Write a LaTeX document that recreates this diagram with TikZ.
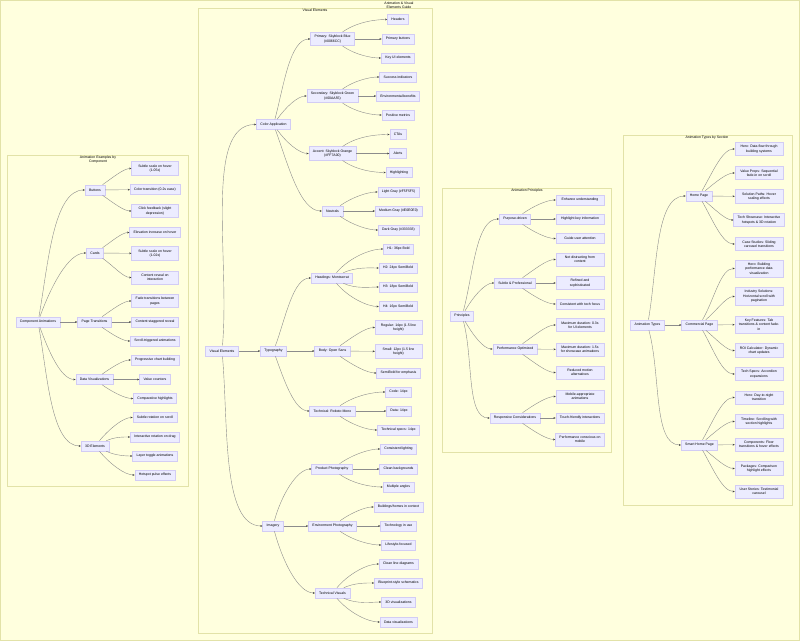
\documentclass[tikz,border=0pt]{standalone}
\usepackage{fontspec}
\setmainfont{Liberation Sans}
\usetikzlibrary{arrows.meta}
\definecolor{nodefill}{HTML}{ECECFF}
\definecolor{nodeline}{HTML}{D2CCF4}
\definecolor{clfill}{HTML}{FFFFDE}
\definecolor{clline}{HTML}{E2E2A8}
\definecolor{edgec}{HTML}{8C8C8C}
\tikzset{
 bx/.style={draw=nodeline, fill=nodefill, line width=0.4pt, font=\fontsize{2.6}{3.3}\selectfont, inner xsep=3pt, inner ysep=2.2pt, minimum height=7.5pt, align=center},
 lf/.style={bx, minimum width=36pt},
 lw/.style={bx, minimum width=35pt},
 cl/.style={draw=clline, fill=clfill, line width=0.5pt},
 ttl/.style={font=\fontsize{2.6}{3.3}\selectfont, align=center, inner sep=0pt, anchor=north},
 ed/.style={draw=edgec, line width=0.3pt, -{Stealth[length=1.6pt,width=1.4pt,color=black!75]}},
}
\newcommand\ecurve[3]{\draw[ed] (#1) to[out=#3,in=180,in looseness=0.6] (#2);}
\newcommand\estr[2]{\draw[ed] (#1) -- (#2);}
\begin{document}
\begin{tikzpicture}[x=0.75pt,y=-0.75pt]
\useasboundingbox (0,0) rectangle (800,641);
\draw[cl] (0.5,0.5) rectangle (799.5,640.5);
\node[ttl] at (399,1.5) {Animation \& Visual\\Elements Guide};
% clusters
\draw[cl] (7,155) rectangle (188,486);
\node[ttl] at (98,155.5) {Animation Examples by\\Component};
\draw[cl] (198,8) rectangle (432,633);
\node[ttl] at (315,9) {Visual Elements};
\draw[cl] (442,188) rectangle (611,452);
\node[ttl] at (527,189) {Animation Principles};
\draw[cl] (623,135) rectangle (792,505);
\node[ttl] at (707,136) {Animation Types by Section};

% ---------- Left cluster
\node[bx] (ca) at (38,322) {Component Animations};
\node[bx] (bt) at (95,190) {Buttons};
\node[lw] (bt1) at (155,168.5) {Subtle scale on hover\\(1.05x)};
\node[bx] (bt2) at (155,189.5) {Color transition (0.2s ease)};
\node[lw] (bt3) at (155,211) {Click feedback (slight\\depression)};
\node[bx] (cd) at (95,253) {Cards};
\node[bx] (cd1) at (155,232.5) {Elevation increase on hover};
\node[lw] (cd2) at (155,253.5) {Subtle scale on hover\\(1.02x)};
\node[lw] (cd3) at (155,277.5) {Content reveal on\\interaction};
\node[bx] (pt) at (94.5,322) {Page Transitions};
\node[lw] (pt1) at (155,301) {Fade transitions between\\pages};
\node[bx] (pt2) at (155,322) {Content staggered reveal};
\node[bx] (pt3) at (155,341) {Scroll-triggered animations};
\node[bx] (dv) at (94.5,379.5) {Data Visualizations};
\node[bx] (dv1) at (155,360) {Progressive chart building};
\node[bx] (dv2) at (155,379.5) {Value counters};
\node[bx] (dv3) at (155,398.5) {Comparative highlights};
\node[bx] (td) at (95,446) {3D Elements};
\node[bx] (td1) at (155,417.5) {Subtle rotation on scroll};
\node[bx] (td2) at (155,437) {Interactive rotation on drag};
\node[bx] (td3) at (155,456) {Layer toggle animations};
\node[bx] (td4) at (155,475) {Hotspot pulse effects};
\ecurve{ca}{bt}{80} \ecurve{ca}{cd}{70} \estr{ca}{pt} \ecurve{ca}{dv}{-70} \ecurve{ca}{td}{-80}
\ecurve{bt}{bt1}{35} \estr{bt}{bt2} \ecurve{bt}{bt3}{-35}
\ecurve{cd}{cd1}{35} \estr{cd}{cd2} \ecurve{cd}{cd3}{-35}
\ecurve{pt}{pt1}{35} \estr{pt}{pt2} \ecurve{pt}{pt3}{-35}
\ecurve{dv}{dv1}{35} \estr{dv}{dv2} \ecurve{dv}{dv3}{-35}
\ecurve{td}{td1}{50} \ecurve{td}{td2}{25} \ecurve{td}{td3}{-25} \ecurve{td}{td4}{-50}

% ---------- Visual elements
\node[bx] (ve) at (222,351) {Visual Elements};
\node[bx] (col) at (273.5,124.5) {Color Application};
\node[bx] (cp) at (332.5,39) {Primary: Skyblock Blue\\(\#0066CC)};
\node[bx] (cp1) at (398,19.5) {Headers};
\node[bx] (cp2) at (398,39) {Primary buttons};
\node[bx] (cp3) at (398,58) {Key UI elements};
\node[bx] (cs) at (332.5,96) {Secondary: Skyblock Green\\(\#00AA55)};
\node[bx] (cs1) at (398,77) {Success indicators};
\node[bx] (cs2) at (398,96) {Environmental benefits};
\node[bx] (cs3) at (398,115) {Positive metrics};
\node[bx] (cx) at (332.5,153.5) {Accent: Skyblock Orange\\(\#FF7A00)};
\node[bx] (cx1) at (398,134.5) {CTAs};
\node[bx] (cx2) at (398,153.5) {Alerts};
\node[bx] (cx3) at (399,172.5) {Highlighting};
\node[bx] (cn) at (332.5,211) {Neutrals};
\node[bx] (cn1) at (398.5,192) {Light Gray (\#F5F5F5)};
\node[bx] (cn2) at (398.5,211) {Medium Gray (\#E0E0E0)};
\node[bx] (cn3) at (398.5,230) {Dark Gray (\#333333)};
\node[bx] (ty) at (273.5,351) {Typography};
\node[bx] (th) at (332,278) {Headings: Montserrat};
\node[bx] (th1) at (398.5,249) {H1: 36px Bold};
\node[bx] (th2) at (398,268) {H2: 24px SemiBold};
\node[bx] (th3) at (398,287) {H3: 18px SemiBold};
\node[bx] (th4) at (398,306.5) {H4: 16px SemiBold};
\node[bx] (tb) at (332.5,351) {Body: Open Sans};
\node[lw] (tb1) at (398.5,327.5) {Regular: 14px (1.5 line\\height)};
\node[lw] (tb2) at (398.5,351.5) {Small: 12px (1.5 line\\height)};
\node[bx] (tb3) at (398.5,373) {SemiBold for emphasis};
\node[bx] (tt) at (332.5,411) {Technical: Roboto Mono};
\node[bx] (tt1) at (398.5,392) {Code: 14px};
\node[bx] (tt2) at (399,411) {Data: 14px};
\node[bx] (tt3) at (398.5,430) {Technical specs: 14px};
\node[bx] (im) at (273,526) {Imagery};
\node[bx] (ip) at (332,469) {Product Photography};
\node[bx] (ip1) at (398.5,449) {Consistent lighting};
\node[bx] (ip2) at (398.5,469) {Clean backgrounds};
\node[bx] (ip3) at (398.5,487) {Multiple angles};
\node[bx] (ie) at (332.5,526) {Environment Photography};
\node[bx] (ie1) at (398.5,507) {Buildings/homes in context};
\node[bx] (ie2) at (398.5,526) {Technology in use};
\node[bx] (ie3) at (398.5,545) {Lifestyle-focused};
\node[bx] (iv) at (332.5,593) {Technical Visuals};
\node[bx] (iv1) at (398.5,564) {Clean line diagrams};
\node[bx] (iv2) at (398.5,583) {Blueprint-style schematics};
\node[bx] (iv3) at (398.5,602) {3D visualizations};
\node[bx] (iv4) at (398.5,622) {Data visualizations};
\ecurve{ve}{col}{85} \estr{ve}{ty} \ecurve{ve}{im}{-85}
\ecurve{col}{cp}{75} \ecurve{col}{cs}{55} \ecurve{col}{cx}{-55} \ecurve{col}{cn}{-70}
\ecurve{cp}{cp1}{35} \estr{cp}{cp2} \ecurve{cp}{cp3}{-35}
\ecurve{cs}{cs1}{35} \estr{cs}{cs2} \ecurve{cs}{cs3}{-35}
\ecurve{cx}{cx1}{35} \estr{cx}{cx2} \ecurve{cx}{cx3}{-35}
\ecurve{cn}{cn1}{35} \estr{cn}{cn2} \ecurve{cn}{cn3}{-35}
\ecurve{ty}{th}{70} \estr{ty}{tb} \ecurve{ty}{tt}{-70}
\ecurve{th}{th1}{50} \ecurve{th}{th2}{25} \ecurve{th}{th3}{-25} \ecurve{th}{th4}{-50}
\ecurve{tb}{tb1}{35} \estr{tb}{tb2} \ecurve{tb}{tb3}{-35}
\ecurve{tt}{tt1}{35} \estr{tt}{tt2} \ecurve{tt}{tt3}{-35}
\ecurve{im}{ip}{75} \estr{im}{ie} \ecurve{im}{iv}{-75}
\ecurve{ip}{ip1}{35} \estr{ip}{ip2} \ecurve{ip}{ip3}{-35}
\ecurve{ie}{ie1}{35} \estr{ie}{ie2} \ecurve{ie}{ie3}{-35}
\ecurve{iv}{iv1}{50} \ecurve{iv}{iv2}{25} \ecurve{iv}{iv3}{-25} \ecurve{iv}{iv4}{-50}

% ---------- Principles
\node[bx] (pr) at (462,316) {Principles};
\node[bx] (pd) at (515,219) {Purpose-driven};
\node[lf] (pd1) at (580,200) {Enhance understanding};
\node[lf] (pd2) at (580,219) {Highlight key information};
\node[lf] (pd3) at (580,238.5) {Guide user attention};
\node[bx] (sp) at (515,283) {Subtle \& Professional};
\node[lf] (sp1) at (580,259.5) {Not distracting from\\content};
\node[lf] (sp2) at (580,283) {Refined and\\sophisticated};
\node[lf] (sp3) at (580,304) {Consistent with tech focus};
\node[bx] (po) at (515,349) {Performance Optimized};
\node[lf] (po1) at (580,325) {Maximum duration: 0.3s\\for UI elements};
\node[lf] (po2) at (580,349.5) {Maximum duration: 1.5s\\for showcase animations};
\node[lf] (po3) at (580,372.5) {Reduced motion\\alternatives};
\node[bx] (rc) at (515,418) {Responsive Considerations};
\node[lf] (rc1) at (580,396.5) {Mobile-appropriate\\animations};
\node[lf] (rc2) at (580,418) {Touch-friendly interactions};
\node[lf] (rc3) at (580,439.5) {Performance conscious on\\mobile};
\ecurve{pr}{pd}{75} \ecurve{pr}{sp}{60} \ecurve{pr}{po}{-60} \ecurve{pr}{rc}{-75}
\ecurve{pd}{pd1}{35} \estr{pd}{pd2} \ecurve{pd}{pd3}{-35}
\ecurve{sp}{sp1}{35} \estr{sp}{sp2} \ecurve{sp}{sp3}{-35}
\ecurve{po}{po1}{35} \estr{po}{po2} \ecurve{po}{po3}{-35}
\ecurve{rc}{rc1}{35} \estr{rc}{rc2} \ecurve{rc}{rc3}{-35}

% ---------- Types
\node[bx] (atp) at (647.5,325) {Animation Types};
\node[bx] (hp) at (699,196) {Home Page};
\node[lf] (hp1) at (759,149) {Hero: Data flow through\\building systems};
\node[lf] (hp2) at (759,173) {Value Props: Sequential\\fade-in on scroll};
\node[lf] (hp3) at (759,196.5) {Solution Paths: Hover\\scaling effects};
\node[lf] (hp4) at (759,220) {Tech Showcase: Interactive\\hotspots \& 3D rotation};
\node[lf] (hp5) at (759,244) {Case Studies: Sliding\\carousel transitions};
\node[bx] (cm) at (699.5,325) {Commercial Page};
\node[lf] (cm1) at (759,268.5) {Hero: Building\\performance data\\visualization};
\node[lf] (cm2) at (759,296.5) {Industry Solutions:\\Horizontal scroll with\\pagination};
\node[lf] (cm3) at (759,324.5) {Key Features: Tab\\transitions \& content fade-\\in};
\node[lf] (cm4) at (759,350.5) {ROI Calculator: Dynamic\\chart updates};
\node[lf] (cm5) at (759,374) {Tech Specs: Accordion\\expansions};
\node[bx] (sh) at (699.5,445) {Smart Home Page};
\node[lf] (sh1) at (759,397.5) {Hero: Day-to-night\\transition};
\node[lf] (sh2) at (759,421.5) {Timeline: Scrolling with\\section highlights};
\node[lf] (sh3) at (759,444.5) {Components: Floor\\transitions \& hover effects};
\node[lf] (sh4) at (759,468.5) {Packages: Comparison\\highlight effects};
\node[lf] (sh5) at (759,491.5) {User Stories: Testimonial\\carousel};
\ecurve{atp}{hp}{80} \estr{atp}{cm} \ecurve{atp}{sh}{-75}
\ecurve{hp}{hp1}{60} \ecurve{hp}{hp2}{40} \estr{hp}{hp3} \ecurve{hp}{hp4}{-40} \ecurve{hp}{hp5}{-60}
\ecurve{cm}{cm1}{60} \ecurve{cm}{cm2}{40} \estr{cm}{cm3} \ecurve{cm}{cm4}{-40} \ecurve{cm}{cm5}{-60}
\ecurve{sh}{sh1}{60} \ecurve{sh}{sh2}{40} \estr{sh}{sh3} \ecurve{sh}{sh4}{-40} \ecurve{sh}{sh5}{-60}
\end{tikzpicture}
\end{document}
